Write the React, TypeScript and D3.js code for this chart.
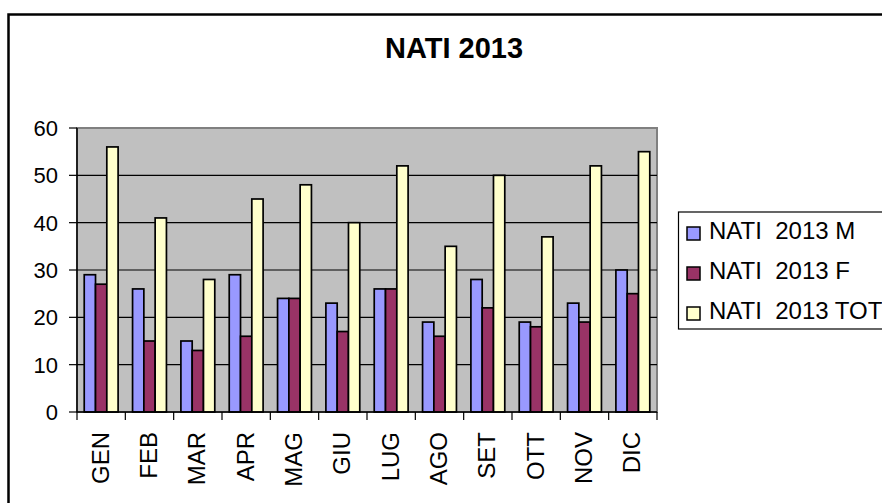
import React from "react";
import * as d3 from "d3";

const months = ["GEN", "FEB", "MAR", "APR", "MAG", "GIU", "LUG", "AGO", "SET", "OTT", "NOV", "DIC"];
const natiM = [29, 26, 15, 29, 24, 23, 26, 19, 28, 19, 23, 30];
const natiF = [27, 15, 13, 16, 24, 17, 26, 16, 22, 18, 19, 25];
const natiTot = [56, 41, 28, 45, 48, 40, 52, 35, 50, 37, 52, 55];
const seriesNames = ["NATI  2013 M", "NATI  2013 F", "NATI  2013 TOT"];
const seriesColors = ["#9999FF", "#993366", "#FFFFCC"];
const yTicks = [0, 10, 20, 30, 40, 50, 60];

const W = 882;
const H = 503;
const plot = { left: 77, right: 657, top: 128, bottom: 412 };
const FONT = "Arial, 'Liberation Sans', Helvetica, sans-serif";

export default function App() {
  const series = [natiM, natiF, natiTot];
  const x0 = d3.scaleBand<string>().domain(months).range([plot.left, plot.right]).paddingInner(0).paddingOuter(0);
  const x1 = d3
    .scaleBand<number>()
    .domain([0, 1, 2])
    .range([0, x0.bandwidth()])
    .paddingInner(0)
    .paddingOuter(0.64);
  const y = d3.scaleLinear().domain([0, 60]).range([plot.bottom, plot.top]);

  const boundaries = d3.range(months.length + 1).map((i) => plot.left + i * x0.step());

  return (
    <svg
      width={W}
      height={H}
      viewBox={`0 0 ${W} ${H}`}
      style={{ position: "absolute", left: 0, top: 0, background: "#fff" }}
      fontFamily={FONT}
    >
      <rect x={0} y={0} width={W} height={H} fill="#fff" />
      <rect x={8.5} y={14.5} width={W + 20} height={H + 20} fill="#fff" stroke="#000" strokeWidth={2.5} />
      <text x={454} y={58} textAnchor="middle" fontWeight="bold" fontSize={29} fill="#000">
        NATI 2013
      </text>

      {/* plot area */}
      <rect
        x={plot.left}
        y={plot.top}
        width={plot.right - plot.left}
        height={plot.bottom - plot.top}
        fill="#C0C0C0"
        stroke="#808080"
        strokeWidth={2}
      />
      {yTicks
        .filter((t) => t > 0 && t < 60)
        .map((t) => (
          <line key={"g" + t} x1={plot.left} x2={plot.right} y1={y(t)} y2={y(t)} stroke="#000" strokeWidth={1.2} />
        ))}

      {/* bars */}
      {months.map((m, i) => (
        <g key={m}>
          {series.map((s, si) => (
            <rect
              key={si}
              x={(x0(m) as number) + (x1(si) as number)}
              y={y(s[i])}
              width={x1.bandwidth()}
              height={y(0) - y(s[i])}
              fill={seriesColors[si]}
              stroke="#000"
              strokeWidth={1.7}
            />
          ))}
        </g>
      ))}

      {/* axes */}
      <line x1={plot.left} x2={plot.left} y1={plot.top} y2={plot.bottom} stroke="#000" strokeWidth={1.5} />
      <line x1={plot.left} x2={plot.right} y1={plot.bottom} y2={plot.bottom} stroke="#000" strokeWidth={1.5} />
      {yTicks.map((t) => (
        <g key={"yt" + t}>
          <line x1={plot.left - 8} x2={plot.left} y1={y(t)} y2={y(t)} stroke="#000" strokeWidth={1.2} />
          <text x={58} y={y(t)} dy="0.36em" textAnchor="end" fontSize={22} fill="#000">
            {t}
          </text>
        </g>
      ))}
      {boundaries.map((bx, i) => (
        <line key={"xt" + i} x1={bx} x2={bx} y1={plot.bottom} y2={plot.bottom + 8} stroke="#000" strokeWidth={1.2} />
      ))}
      {months.map((m) => {
        const cx = (x0(m) as number) + x0.bandwidth() / 2;
        return (
          <text
            key={"xl" + m}
            transform={`translate(${cx - 1},432) rotate(-90)`}
            textAnchor="end"
            dy="0.36em"
            fontSize={24}
            fill="#000"
          >
            {m}
          </text>
        );
      })}

      {/* legend */}
      <rect x={678.5} y={212} width={250} height={117} fill="#fff" stroke="#000" strokeWidth={1.2} />
      {seriesNames.map((n, i) => (
        <g key={n}>
          <rect x={687} y={227 + i * 40} width={13} height={13} fill={seriesColors[i]} stroke="#000" strokeWidth={1.5} />
          <text x={709} y={239 + i * 40} fontSize={24} fill="#000" style={{ whiteSpace: "pre" }}>
            {n}
          </text>
        </g>
      ))}
    </svg>
  );
}
